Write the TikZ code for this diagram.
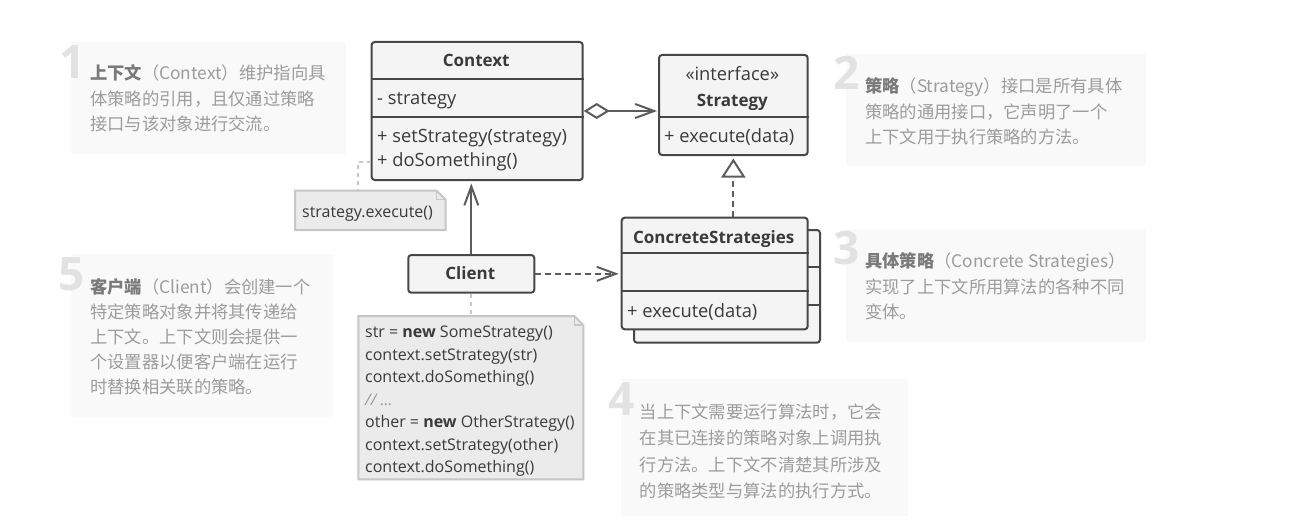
\documentclass[tikz,border=0pt]{standalone}
\usepackage{fontspec}
\setmainfont{Open Sans}
\newfontfamily\cjk{Noto Sans CJK SC}
\usetikzlibrary{arrows.meta,calc}
\definecolor{umlline}{HTML}{474747}
\definecolor{umlfill}{HTML}{F4F4F4}
\definecolor{umltext}{HTML}{3A3A3A}
\definecolor{connline}{HTML}{5C5C5C}
\definecolor{notefill}{HTML}{EBEBEB}
\definecolor{noteline}{HTML}{C6C6C6}
\definecolor{panelfill}{HTML}{F9F9F9}
\definecolor{digitgray}{HTML}{E2E2E2}
\definecolor{desctext}{HTML}{9C9C9C}
\definecolor{desctitle}{HTML}{7A7A7A}
\definecolor{commentgray}{HTML}{9A9A9A}
\newcommand\emtitle[1]{{\color{desctitle}\bfseries #1}}
\begin{document}
\begin{tikzpicture}[x=1pt,y=-1pt,
 umlbox/.style={draw=umlline,line width=2pt,fill=umlfill,rounded corners=3pt,inner sep=0pt,anchor=north west},
 divider/.style={draw=umlline,line width=2pt},
 umltitle/.style={anchor=base,inner sep=0pt,text=umltext,font=\fontsize{17}{20}\selectfont\bfseries},
 member/.style={anchor=base west,inner sep=0pt,text=umltext,font=\fontsize{18.3}{20}\selectfont},
 notetext/.style={anchor=base west,inner sep=0pt,text=umltext,font=\fontsize{16}{18}\selectfont},
 notebox/.style={draw=noteline,line width=2pt,fill=notefill,line join=miter},
 holder/.style={anchor=north west,inner sep=0pt,outer sep=0pt},
 panel/.style={fill=panelfill,anchor=north west,inner sep=0pt,outer sep=0pt},
 digit/.style={anchor=base east,inner sep=0pt,text=digitgray,font=\fontsize{46}{46}\selectfont\bfseries},
 desc/.style={anchor=base west,inner sep=0pt,text=desctext,font=\cjk\fontsize{17.3}{20}\selectfont},
 conn/.style={draw=connline,line width=2pt},
 dashedconn/.style={conn,dash pattern=on 6pt off 4pt},
 noteconn/.style={draw=noteline,line width=2pt,dash pattern=on 4pt off 4pt},
 openhead/.style={-{Straight Barb[length=19pt,width=14pt]}},
]
\useasboundingbox[fill=white] (0,0) rectangle (1290,527);

% ---------- description panels ----------
\node[panel,minimum width=275pt,minimum height=112pt] (pan1) at (71,42) {};
\node[panel,minimum width=300pt,minimum height=112pt] (pan2) at (846,54) {};
\node[panel,minimum width=300pt,minimum height=112.5pt] (pan3) at (846,229) {};
\node[panel,minimum width=287pt,minimum height=137pt] (pan4) at (621,379) {};
\node[panel,minimum width=262pt,minimum height=162.5pt] (pan5) at (71,254) {};

\node[digit] (d1) at (86,78) {1};
\node[digit] (d2) at (860,89.5) {2};
\node[digit] (d3) at (860,264.5) {3};
\node[digit] (d4) at (635,415) {4};
\node[digit] (d5) at (85,290) {5};

\node[desc] (t1a) at (90,79.5) {\emtitle{上下文}（Context）维护指向具};
\node[desc] (t1b) at (90,105) {体策略的引用，且仅通过策略};
\node[desc] (t1c) at (90,130.5) {接口与该对象进行交流。};

\node[desc] (t2a) at (865,92.5) {\emtitle{策略}（Strategy）接口是所有具体};
\node[desc] (t2b) at (865,118) {策略的通用接口，它声明了一个};
\node[desc] (t2c) at (865,143.5) {上下文用于执行策略的方法。};

\node[desc] (t3a) at (865,267.5) {\emtitle{具体策略}（Concrete Strategies）};
\node[desc] (t3b) at (865,293) {实现了上下文所用算法的各种不同};
\node[desc] (t3c) at (865,318.5) {变体。};

\node[desc] (t4a) at (639.5,418) {当上下文需要运行算法时，它会};
\node[desc] (t4b) at (639.5,444.5) {在其已连接的策略对象上调用执};
\node[desc] (t4c) at (639.5,471) {行方法。上下文不清楚其所涉及};
\node[desc] (t4d) at (639.5,497) {的策略类型与算法的执行方式。};

\node[desc] (t5a) at (90,293) {\emtitle{客户端}（Client）会创建一个};
\node[desc] (t5b) at (90,318) {特定策略对象并将其传递给};
\node[desc] (t5c) at (90,343) {上下文。上下文则会提供一};
\node[desc] (t5d) at (90,368) {个设置器以便客户端在运行};
\node[desc] (t5e) at (90,393) {时替换相关联的策略。};

% ---------- Context ----------
\node[umlbox,minimum width=211pt,minimum height=138pt] (ctx) at (370.7,41) {};
\draw[divider] ([yshift=-38pt]ctx.north west) -- ([yshift=-38pt]ctx.north east);
\draw[divider] ([yshift=-75.5pt]ctx.north west) -- ([yshift=-75.5pt]ctx.north east);
\node[umltitle] (ctxt) at (476.2,66.5) {Context};
\node[member] (ctxa) at (377,104.5) {- strategy};
\node[member] (ctxm1) at (377,142.5) {+ setStrategy(strategy)};
\node[member] (ctxm2) at (377,166.5) {+ doSomething()};

% ---------- Strategy ----------
\node[umlbox,minimum width=148.7pt,minimum height=100pt] (str) at (658,54) {};
\draw[divider] ([yshift=-63pt]str.north west) -- ([yshift=-63pt]str.north east);
\node[anchor=base,inner sep=0pt,text=umltext,font=\fontsize{18.3}{20}\selectfont] (strs) at (732.3,80.5) {«interface»};
\node[umltitle] (strt) at (732.3,106.5) {Strategy};
\node[member] (strm) at (664,142.5) {+ execute(data)};

% ---------- ConcreteStrategies ----------
\node[umlbox,minimum width=186pt,minimum height=112.7pt] (csb) at (633,229) {};
\draw[divider] ([yshift=-37.7pt]csb.north west) -- ([yshift=-37.7pt]csb.north east);
\draw[divider] ([yshift=-76pt]csb.north west) -- ([yshift=-76pt]csb.north east);
\node[umlbox,minimum width=186pt,minimum height=111.6pt] (cs) at (620.7,216.7) {};
\draw[divider] ([yshift=-36.6pt]cs.north west) -- ([yshift=-36.6pt]cs.north east);
\draw[divider] ([yshift=-74pt]cs.north west) -- ([yshift=-74pt]cs.north east);
\node[umltitle] (cst) at (713.7,243) {ConcreteStrategies};
\node[member] (csm) at (627,317.5) {+ execute(data)};

% ---------- Client ----------
\node[umlbox,minimum width=126pt,minimum height=37.7pt] (cl) at (407.3,254) {};
\node[umltitle] (clt) at (470.3,279.5) {Client};

% ---------- notes ----------
\node[holder,minimum width=150.7pt,minimum height=39.3pt] (n1) at (295,190.7) {};
\draw[notebox] (n1.north west) -- ([xshift=-9pt]n1.north east) -- ([yshift=-9pt]n1.north east) -- (n1.south east) -- (n1.south west) -- cycle;
\draw[draw=noteline,line width=1.5pt] ([xshift=-9pt]n1.north east) -- ([xshift=-9pt,yshift=-9pt]n1.north east) -- ([yshift=-9pt]n1.north east);
\node[notetext] (n1t) at (302,217) {strategy.execute()};

\node[holder,minimum width=225pt,minimum height=163.3pt] (n2) at (358.3,316) {};
\draw[notebox] (n2.north west) -- ([xshift=-9pt]n2.north east) -- ([yshift=-9pt]n2.north east) -- (n2.south east) -- (n2.south west) -- cycle;
\draw[draw=noteline,line width=1.5pt] ([xshift=-9pt]n2.north east) -- ([xshift=-9pt,yshift=-9pt]n2.north east) -- ([yshift=-9pt]n2.north east);
\node[notetext] (n2a) at (365,337.5) {str = \textbf{new} SomeStrategy()};
\node[notetext] (n2b) at (365,360) {context.setStrategy(str)};
\node[notetext] (n2c) at (365,382.5) {context.doSomething()};
\node[notetext,text=commentgray] (n2d) at (365,405) {\itshape // ...};
\node[notetext] (n2e) at (365,427.5) {other = \textbf{new} OtherStrategy()};
\node[notetext] (n2f) at (365,450) {context.setStrategy(other)};
\node[notetext] (n2g) at (365,472.5) {context.doSomething()};

% ---------- connectors ----------
\draw[conn,{Diamond[fill=white,length=26pt,width=16pt]}-{Straight Barb[length=19pt,width=14pt]},shorten >=1pt]
  (ctx.east) -- (ctx.east -| str.west);
\draw[dashedconn,-{Triangle[fill=white,length=19pt,width=24pt]},shorten >=2.5pt]
  (str.south |- cs.north) -- (str.south);
\draw[conn,openhead,shorten >=2.5pt] (cl.north) -- (cl.north |- ctx.south);
\draw[dashedconn,openhead,shorten >=2pt] (cl.east) -- (cl.east -| cs.west);
\draw[noteconn] (ctx.west |- ctxm2) -| ([xshift=63pt]n1.north west);
\draw[noteconn] (cl.south) -- (cl.south |- n2.north);
\end{tikzpicture}
\end{document}
